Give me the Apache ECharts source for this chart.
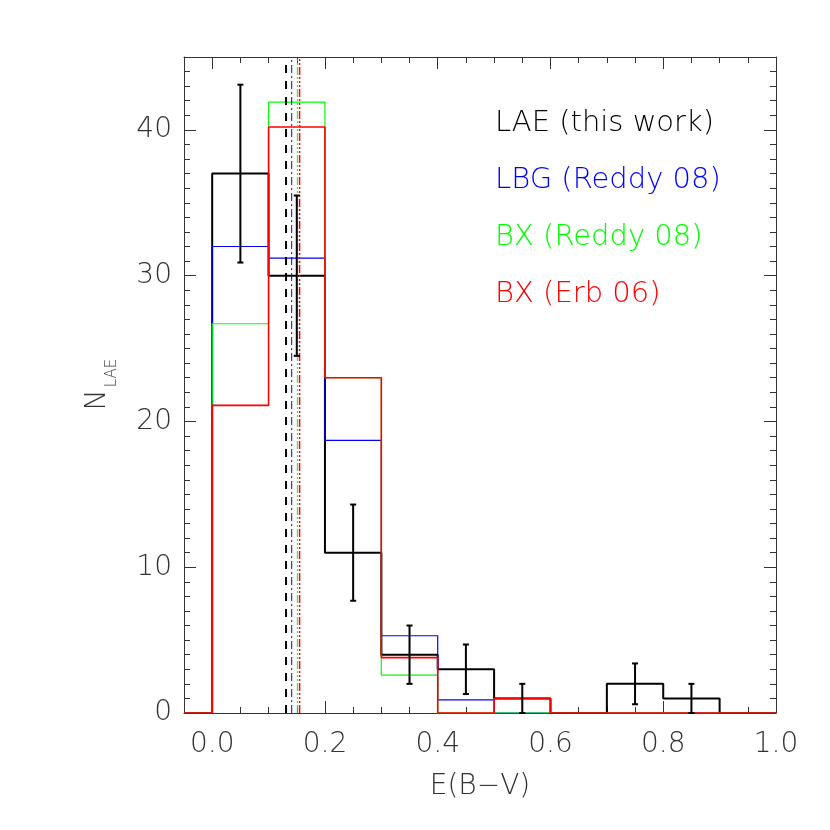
<!DOCTYPE html>
<html>
<head>
<meta charset="utf-8">
<script src="https://cdn.jsdelivr.net/npm/echarts@6/dist/echarts.min.js"></script>
<style>
  html, body { margin: 0; padding: 0; background: #fff; }
  #chart { width: 830px; height: 830px; }
</style>
</head>
<body>
<div id="chart"></div>
<script>
// bins: E(B-V) from 0.0 to 1.0, width 0.1
const binStart = [0.0, 0.1, 0.2, 0.3, 0.4, 0.5, 0.6, 0.7, 0.8, 0.9]
const binEnd = 1.0
const lae = [37, 30, 11, 4, 3, 1, 0, 2, 1, 0]
const lbg = [32, 31.2, 18.7, 5.3, 0.9, 0, 0, 0, 0, 0]
const bxReddy = [26.7, 41.9, 23, 2.6, 0, 0, 0, 0, 0, 0]
const bxErb = [21.1, 40.2, 23, 3.8, 0, 1, 0, 0, 0, 0]

// error bars on the LAE counts
const errX = [0.05, 0.15, 0.25, 0.35, 0.45, 0.55, 0.75, 0.85]
const errLo = [30.9, 24.5, 7.7, 2.0, 1.3, 0, 0.6, 0]
const errHi = [43.1, 35.5, 14.3, 6.0, 4.7, 2.0, 3.4, 2.0]

// median E(B-V) of each sample
const medLae = 0.131
const medLbg = 0.141
const medBxReddy = 0.151
const medBxErb = 0.155

const xMajorTicks = [0.0, 0.2, 0.4, 0.6, 0.8, 1.0]
const xMinorTicks = [0.05, 0.1, 0.15, 0.25, 0.3, 0.35, 0.45, 0.5, 0.55, 0.65, 0.7, 0.75, 0.85, 0.9, 0.95]
const yMajorTicks = [0, 10, 20, 30, 40]
const yMax = 45
// minor y ticks every 1 count
const yMinorTicks = []
for (let v = 1; v < yMax; v++) if (v % 10) yMinorTicks.push(v)

const names = ["LAE (this work)", "LBG (Reddy 08)", "BX (Reddy 08)", "BX (Erb 06)"]
const colors = ["#000000", "#0000ff", "#00ff00", "#ff0000"]

const FONT = "'DejaVu Sans', sans-serif"
const AXC = "#333"

// step line points: start at -0.05 on zero, then each bin
function steps(counts) {
  const pts = [[-0.05, 0]]
  binStart.forEach((x, i) => pts.push([x, counts[i]]))
  pts.push([binEnd, counts[counts.length - 1]])
  return pts
}

function vline(x) {
  return [[x, 0], [x, yMax]]
}

function labelStyle(show, values, fmt, margin) {
  if (!show) return { show: false }
  return {
    show: true,
    customValues: values,
    formatter: fmt,
    margin: margin,
    fontSize: 28,
    fontFamily: FONT,
    fontWeight: 200,
    color: "#333"
  }
}

function xAxisCfg(pos, ticks, len, withLine, withLabels) {
  return {
    type: "value",
    position: pos,
    min: -0.05,
    max: 1.0,
    axisLine: { show: withLine, onZero: false, lineStyle: { color: AXC, width: 1 } },
    axisTick: { show: true, inside: true, length: len, customValues: ticks, lineStyle: { color: AXC, width: 1 } },
    axisLabel: labelStyle(withLabels, xMajorTicks, v => v.toFixed(1), 18),
    splitLine: { show: false }
  }
}

function yAxisCfg(pos, ticks, len, withLine, withLabels) {
  return {
    type: "value",
    position: pos,
    min: 0,
    max: yMax,
    axisLine: { show: withLine, onZero: false, lineStyle: { color: AXC, width: 1 } },
    axisTick: { show: true, inside: true, length: len, customValues: ticks, lineStyle: { color: AXC, width: 1 } },
    axisLabel: labelStyle(withLabels, yMajorTicks, v => String(v), 12),
    splitLine: { show: false }
  }
}

const chart = echarts.init(document.getElementById("chart"))

const xa0 = xAxisCfg("bottom", xMajorTicks, 12, true, true)
xa0.name = "E(B\u2212V)"
xa0.nameLocation = "middle"
xa0.nameGap = 60
xa0.nameTextStyle = { fontSize: 28, fontFamily: FONT, fontWeight: 200, color: "#333" }

const option = {
  animation: false,
  backgroundColor: "#fff",
  grid: { left: 184, right: 54, top: 57, bottom: 117 },
  legend: {
    orient: "vertical",
    left: 485,
    top: 102,
    itemGap: 25,
    itemWidth: 0,
    itemHeight: 10,
    icon: "none",
    selectedMode: false,
    data: names.map((n, i) => ({
      name: n,
      textStyle: { color: colors[i] }
    })),
    textStyle: { fontSize: 29, fontFamily: FONT, fontWeight: 200, lineHeight: 32 }
  },
  graphic: [
    {
      type: "text",
      x: 98, y: 400, rotation: Math.PI / 2,
      style: { text: "N", fontSize: 28, fontFamily: FONT, fontWeight: 200, fill: "#333", align: "center", verticalAlign: "middle" }
    },
    {
      type: "text",
      x: 112, y: 373, rotation: Math.PI / 2,
      style: { text: "LAE", fontSize: 15, fontFamily: FONT, fontWeight: 200, fill: "#333", align: "center", verticalAlign: "middle" }
    }
  ],
  xAxis: [
    xa0,
    xAxisCfg("bottom", xMinorTicks, 6, false, false),
    xAxisCfg("top", xMajorTicks, 12, true, false),
    xAxisCfg("top", xMinorTicks, 6, false, false)
  ],
  yAxis: [
    yAxisCfg("left", yMajorTicks, 12, true, true),
    yAxisCfg("left", yMinorTicks, 6, false, false),
    yAxisCfg("right", yMajorTicks, 12, true, false),
    yAxisCfg("right", yMinorTicks, 6, false, false)
  ],
  series: [
    {
      name: names[0], type: "line", step: "end", data: steps(lae),
      symbol: "none", lineStyle: { color: colors[0], width: 2 }, itemStyle: { color: colors[0] }, z: 2
    },
    {
      name: names[1], type: "line", step: "end", data: steps(lbg),
      symbol: "none", lineStyle: { color: colors[1], width: 1.2 }, itemStyle: { color: colors[1] }, z: 3
    },
    {
      name: names[2], type: "line", step: "end", data: steps(bxReddy),
      symbol: "none", lineStyle: { color: colors[2], width: 1.2 }, itemStyle: { color: colors[2] }, z: 3
    },
    {
      name: names[3], type: "line", step: "end", data: steps(bxErb),
      symbol: "none", lineStyle: { color: colors[3], width: 1.6 }, itemStyle: { color: colors[3] }, z: 3
    },
    {
      type: "line", data: vline(medLae), symbol: "none", z: 4,
      lineStyle: { color: colors[0], width: 2, type: [8, 8] }
    },
    {
      type: "line", data: vline(medLbg), symbol: "none", z: 4,
      lineStyle: { color: colors[1], width: 1, type: [8, 3, 2, 3] }
    },
    {
      type: "line", data: vline(medBxReddy), symbol: "none", z: 4,
      lineStyle: { color: colors[2], width: 1, type: [8, 2, 2, 2, 2, 2, 2, 2] }
    },
    {
      type: "line", data: vline(medBxErb), symbol: "none", z: 4,
      lineStyle: { color: colors[3], width: 1.5, type: [8, 2, 2, 2, 2, 2, 2, 2] }
    },
    {
      type: "custom", z: 5,
      data: errX.map((x, i) => [x, errLo[i], errHi[i]]),
      renderItem: (params, api) => {
        const top = api.coord([api.value(0), api.value(2)])
        const bot = api.coord([api.value(0), api.value(1)])
        const w = 3
        const st = { stroke: "#000", lineWidth: 2 }
        return {
          type: "group",
          children: [
            { type: "line", shape: { x1: top[0], y1: top[1], x2: bot[0], y2: bot[1] }, style: st },
            { type: "line", shape: { x1: top[0] - w, y1: top[1], x2: top[0] + w, y2: top[1] }, style: st },
            { type: "line", shape: { x1: bot[0] - w, y1: bot[1], x2: bot[0] + w, y2: bot[1] }, style: st }
          ]
        }
      }
    }
  ]
}

chart.setOption(option)
window.addEventListener("resize", () => chart.resize())
</script>
</body>
</html>
